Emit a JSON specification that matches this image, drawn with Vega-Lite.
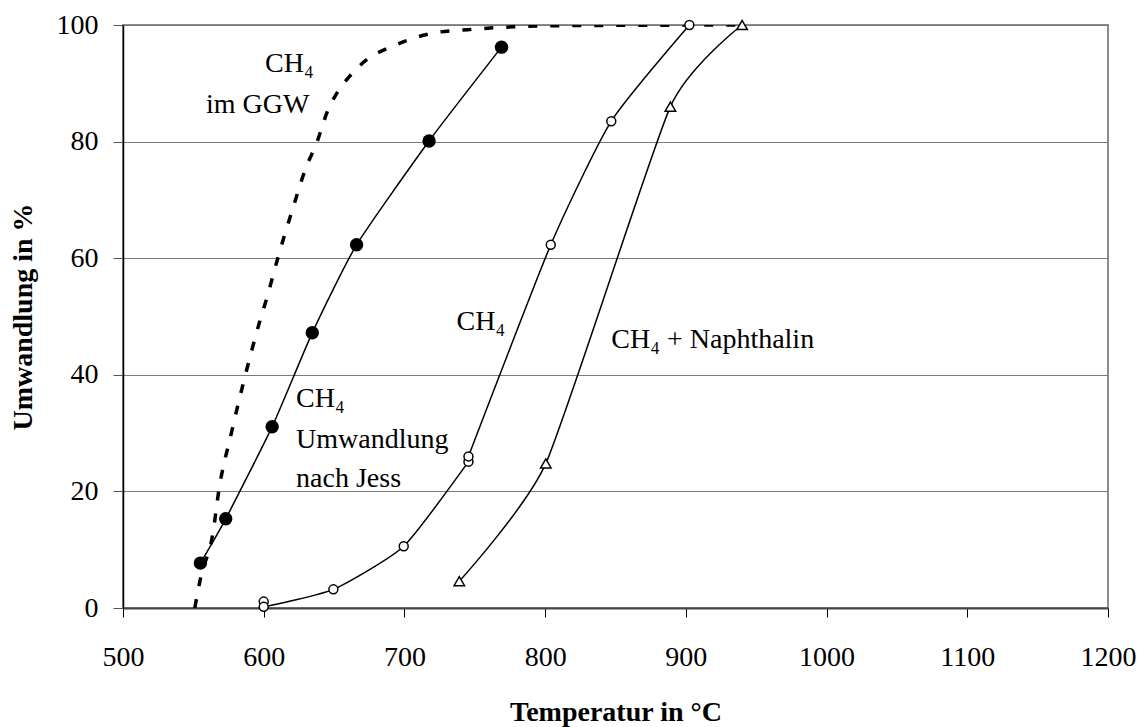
{
  "$schema": "https://vega.github.io/schema/vega-lite/v6.json",
  "width": 985,
  "height": 583,
  "autosize": {"type": "none"},
  "padding": {"left": 123, "top": 25, "right": 36, "bottom": 119},
  "background": "white",
  "config": {
    "view": {"stroke": "#8c8c8c", "strokeWidth": 2},
    "font": "Liberation Serif"
  },
  "datasets": {
    "ggw": [
      {"T": 551, "U": 0}, {"T": 555, "U": 5}, {"T": 564, "U": 13}, {"T": 568, "U": 20},
      {"T": 577, "U": 30}, {"T": 587, "U": 40}, {"T": 597, "U": 49}, {"T": 602, "U": 53},
      {"T": 610, "U": 60}, {"T": 620, "U": 68}, {"T": 630, "U": 75.5}, {"T": 638, "U": 80},
      {"T": 645, "U": 85}, {"T": 652, "U": 88.3}, {"T": 661, "U": 91.2}, {"T": 673, "U": 94},
      {"T": 692, "U": 96.4}, {"T": 720, "U": 98.6}, {"T": 745, "U": 99.2}, {"T": 770, "U": 99.6},
      {"T": 820, "U": 99.9}, {"T": 940, "U": 100}
    ],
    "pts": [
      {"s": "Jess", "i": 1, "T": 555, "U": 7.7},
      {"s": "Jess", "i": 2, "T": 573, "U": 15.3},
      {"s": "Jess", "i": 3, "T": 606, "U": 31.1},
      {"s": "Jess", "i": 4, "T": 634.5, "U": 47.2},
      {"s": "Jess", "i": 5, "T": 666, "U": 62.3},
      {"s": "Jess", "i": 6, "T": 717.5, "U": 80.1},
      {"s": "Jess", "i": 7, "T": 769, "U": 96.2},
      {"s": "CH4", "i": 1, "T": 600, "U": 1.1},
      {"s": "CH4", "i": 2, "T": 600, "U": 0.2},
      {"s": "CH4", "i": 3, "T": 649.5, "U": 3.2},
      {"s": "CH4", "i": 4, "T": 699.5, "U": 10.6},
      {"s": "CH4", "i": 5, "T": 745.5, "U": 25.1},
      {"s": "CH4", "i": 6, "T": 745.5, "U": 26},
      {"s": "CH4", "i": 7, "T": 804, "U": 62.3},
      {"s": "CH4", "i": 8, "T": 847, "U": 83.5},
      {"s": "CH4", "i": 9, "T": 902.5, "U": 100},
      {"s": "Naph", "i": 1, "T": 739, "U": 4.6},
      {"s": "Naph", "i": 2, "T": 800.5, "U": 24.8},
      {"s": "Naph", "i": 3, "T": 889, "U": 86},
      {"s": "Naph", "i": 4, "T": 940, "U": 100}
    ],
    "labels": [
      {"T": 601, "U": 91.9, "t": "CH₄"},
      {"T": 559, "U": 84.9, "t": "im GGW"},
      {"T": 623, "U": 34.5, "t": "CH₄"},
      {"T": 623, "U": 27.4, "t": "Umwandlung"},
      {"T": 623, "U": 20.8, "t": "nach Jess"},
      {"T": 737, "U": 47.7, "t": "CH₄"},
      {"T": 847, "U": 44.6, "t": "CH₄ + Naphthalin"}
    ]
  },
  "encoding": {
    "x": {
      "field": "T", "type": "quantitative",
      "scale": {"domain": [500, 1200], "nice": false, "zero": false},
      "axis": {
        "title": "Temperatur in °C",
        "values": [500, 600, 700, 800, 900, 1000, 1100, 1200],
        "format": "d",
        "grid": false,
        "tickSize": 9, "tickColor": "#000", "tickWidth": 1,
        "domainColor": "#444", "domainWidth": 2,
        "labelFont": "Liberation Serif", "labelFontSize": 28, "labelColor": "#000",
        "labelPadding": 26, "labelFlush": false, "labelOverlap": false,
        "titleFont": "Liberation Serif", "titleFontSize": 28, "titleFontWeight": "bold",
        "titleColor": "#000", "titleY": 112, "titleBaseline": "alphabetic"
      }
    },
    "y": {
      "field": "U", "type": "quantitative",
      "scale": {"domain": [0, 100], "nice": false},
      "axis": {
        "title": "Umwandlung in %",
        "values": [0, 20, 40, 60, 80, 100],
        "format": "d",
        "grid": true, "gridColor": "#7a7a7a", "gridWidth": 1,
        "tickSize": 10, "tickColor": "#555", "tickWidth": 1,
        "domainColor": "#000", "domainWidth": 1.5,
        "labelFont": "Liberation Serif", "labelFontSize": 28, "labelColor": "#000",
        "labelPadding": 15, "labelFlush": false, "labelOverlap": false,
        "titleFont": "Liberation Serif", "titleFontSize": 28, "titleFontWeight": "bold",
        "titleColor": "#000", "titleAngle": -90, "titleX": -100, "titleY": 291.5,
        "titleAlign": "center", "titleBaseline": "middle"
      }
    }
  },
  "layer": [
    {
      "data": {"name": "ggw"},
      "mark": {"type": "line", "color": "#000", "strokeWidth": 3.5, "strokeDash": [9, 13], "strokeCap": "butt", "interpolate": "monotone", "clip": true}
    },
    {
      "data": {"name": "pts"},
      "mark": {"type": "line", "color": "#000", "strokeWidth": 1.5, "interpolate": "cardinal", "tension": 0.45},
      "encoding": {"detail": {"field": "s"}, "order": {"field": "i", "type": "quantitative"}}
    },
    {
      "data": {"name": "pts"},
      "transform": [{"filter": "datum.s === 'Jess'"}],
      "mark": {"type": "point", "shape": "circle", "filled": true, "color": "#000", "size": 180, "opacity": 1}
    },
    {
      "data": {"name": "pts"},
      "transform": [{"filter": "datum.s === 'CH4'"}],
      "mark": {"type": "point", "shape": "circle", "fill": "#fff", "stroke": "#000", "strokeWidth": 1.5, "size": 80, "opacity": 1, "fillOpacity": 1}
    },
    {
      "data": {"name": "pts"},
      "transform": [{"filter": "datum.s === 'Naph'"}],
      "mark": {"type": "point", "shape": "triangle-up", "fill": "#fff", "stroke": "#000", "strokeWidth": 1.5, "size": 110, "opacity": 1, "fillOpacity": 1}
    },
    {
      "data": {"name": "labels"},
      "mark": {"type": "text", "align": "left", "baseline": "alphabetic", "font": "Liberation Serif", "fontSize": 28, "color": "#000"},
      "encoding": {"text": {"field": "t"}}
    }
  ]
}
